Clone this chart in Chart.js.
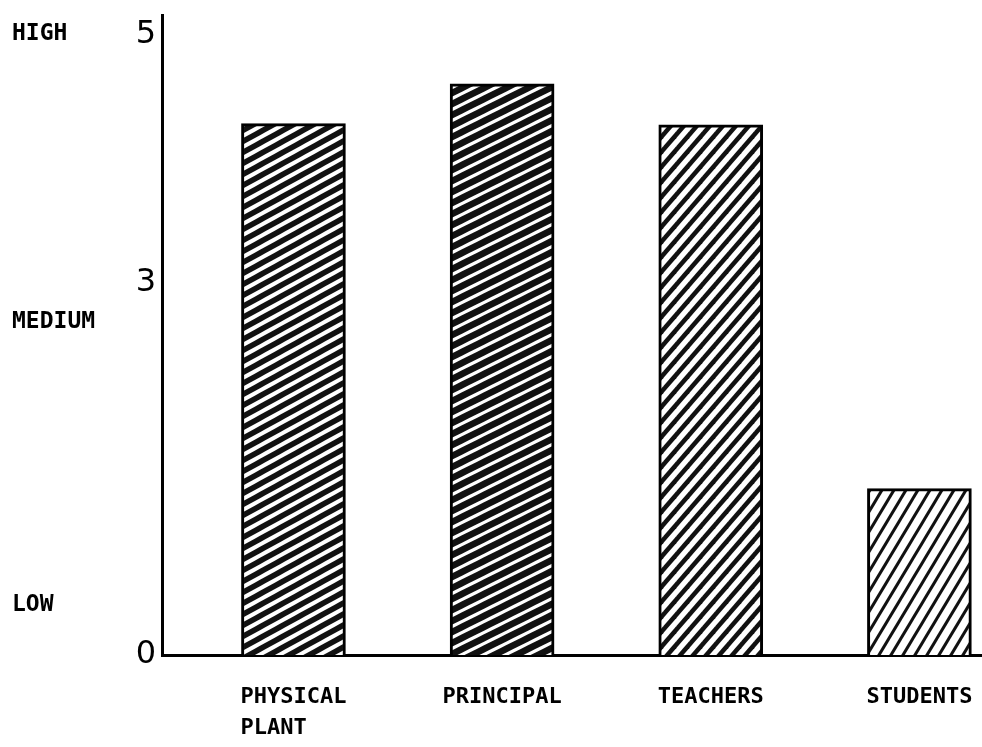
<!DOCTYPE html>
<html>
<head>
<meta charset="utf-8">
<script src="https://cdn.jsdelivr.net/npm/chart.js@4"></script>
<style>
  html, body { margin: 0; padding: 0; background: #fff; }
  #wrap { width: 982px; height: 747px; }
</style>
</head>
<body>
<div id="wrap"><canvas id="chart" width="982" height="747"></canvas></div>
<script>
"use strict";

// chart data
const categories = [["PHYSICAL", "PLANT   "], "PRINCIPAL", "TEACHERS", "STUDENTS"];
const positions = [1, 2, 3, 4];
const ratings = [4.28, 4.6, 4.27, 1.34];
const yTicks = [0, 3, 5];
const levelLabels = ["HIGH", "MEDIUM", "LOW"];
const levelValues = [5, 2.68, 0.4];

// hatch pattern: diagonal strokes, one tile per bar
const makeHatch = function (w, h, lineWidth) {
  const tile = document.createElement("canvas");
  tile.width = w;
  tile.height = h;
  const c = tile.getContext("2d");
  c.fillStyle = "#fff";
  c.fillRect(0, 0, w, h);
  c.strokeStyle = "#111";
  c.lineWidth = lineWidth;
  for (let k = 0; k <= 2; k++) {
    c.beginPath();
    c.moveTo(-w, (k + 1) * h);
    c.lineTo((k + 1) * w, -h);
    c.stroke();
  }
  return c.createPattern(tile, "repeat");
};

const hatches = [
  makeHatch(20, 11, 5.5),
  makeHatch(22, 11, 6.5),
  makeHatch(13, 15, 4.5),
  makeHatch(12, 20, 3)
];

// side labels HIGH / MEDIUM / LOW
const levelPlugin = {
  id: "levels",
  afterDraw(chart) {
    const ctx = chart.ctx;
    const yScale = chart.scales.y;
    ctx.save();
    ctx.fillStyle = "#000";
    ctx.font = "bold 23px 'DejaVu Sans Mono'";
    ctx.textAlign = "left";
    ctx.textBaseline = "middle";
    for (let i = 0; i < levelLabels.length; i++) {
      ctx.fillText(levelLabels[i], 12, yScale.getPixelForValue(levelValues[i]));
    }
    ctx.restore();
  }
};

const ctx = document.getElementById("chart").getContext("2d");
new Chart(ctx, {
  type: "bar",
  data: {
    datasets: [
      {
        data: positions.map((p, i) => ({ x: p, y: ratings[i] })),
        backgroundColor: hatches,
        borderColor: "#000",
        borderWidth: 3,
        barThickness: 104
      }
    ]
  },
  options: {
    responsive: false,
    animation: false,
    layout: { padding: { top: 12, left: 0, right: 0, bottom: 0 } },
    plugins: {
      legend: { display: false },
      tooltip: { enabled: false }
    },
    scales: {
      x: {
        type: "linear",
        offset: false,
        min: 0.37,
        max: 4.3,
        grid: { display: false, drawTicks: false },
        border: { display: true, color: "#000", width: 3 },
        afterBuildTicks: (scale) => {
          scale.ticks = positions.map((v) => ({ value: v }));
        },
        afterFit: (scale) => {
          scale.height = 92;
          scale.paddingLeft = 0;
          scale.paddingRight = 0;
        },
        ticks: {
          color: "#000",
          padding: 27,
          maxRotation: 0,
          autoSkip: false,
          font: { family: "'DejaVu Sans Mono'", size: 22, weight: "bold", lineHeight: 1.4 },
          callback: (value) => categories[positions.indexOf(value)]
        }
      },
      y: {
        min: 0,
        max: 5.15,
        grid: { display: false, drawTicks: false },
        border: { display: true, color: "#000", width: 3 },
        afterBuildTicks: (scale) => {
          scale.ticks = yTicks.map((v) => ({ value: v }));
        },
        afterFit: (scale) => {
          scale.width = 162;
        },
        ticks: {
          color: "#000",
          padding: 6,
          font: { family: "'DejaVu Sans'", size: 32, lineHeight: 0.6 },
          callback: (value) => String(value)
        }
      }
    }
  },
  plugins: [levelPlugin]
});
</script>
</body>
</html>
